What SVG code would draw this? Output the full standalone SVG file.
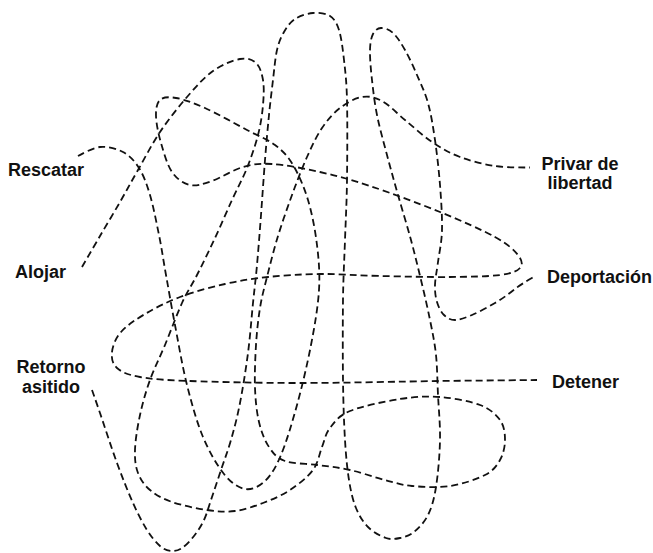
<svg xmlns="http://www.w3.org/2000/svg" width="653" height="553" viewBox="0 0 653 553">
<style>
.bg{fill:#ffffff}
.lbl{font-family:"Liberation Sans",Arial,Helvetica,sans-serif;font-weight:bold;font-size:18px;fill:#111111}
.mid{text-anchor:middle}
.line{fill:none;stroke:#111111;stroke-width:1.8;stroke-dasharray:7 4;stroke-linecap:butt}
</style>
<rect class="bg" x="0" y="0" width="653" height="553"/>
<g id="connectors">
<path id="rescatar-detener" class="line" d="M78,156 C78,156 92.5,147.7 100,147 S116.5,148.5 123,152 S134.5,160.8 139,168 S146.7,183.8 150,195 S156.3,221.7 159,235 S163.3,260 166,275 S171.5,306.7 175,325 S182.3,366.3 187,385 S196.8,422.2 203,437 S217,465.3 224,474 S238.2,487.8 245,489 S259,486.7 265,481 S275.7,467.7 281,455 S292,423.3 297,405 S307.3,364.2 311,345 S318,306.7 319,290 S318.8,260 317,245 S312,213.3 308,200 S298.5,174.2 293,165 S282.7,150.8 275,145 S258.7,136.2 247,130 S216.8,113.3 205,108 S183.5,99.3 176,98 S163.3,97 160,100 S155.8,108.8 156,116 S158.3,133.7 161,143 S167.2,165 172,172 S183.3,183.5 190,185 S203.2,184 212,181 S233,169.8 243,167 S259.2,163.2 272,164 S303.7,168.3 320,172 S350,179.3 370,186 S419.2,203.5 440,212 S482,229.8 495,237 S513.8,249.8 518,255 S523,264.7 520,268 S511.7,273.5 500,275 S470,276.8 450,277 S401.7,276.5 380,276 S338.7,273.8 320,274 S283.8,275.3 268,277 S239.7,280.7 225,284 S193.3,292 180,297 S154.8,308.2 145,314 S126.5,325.7 121,332 S112.7,346 112,352 S112.3,363.8 117,368 S127.8,374.8 140,377 S163.3,380 190,381 S258.3,383 300,383 S401.2,381.5 440,381 S521,380.2 537,380"/>
<path id="alojar-privar" class="line" d="M82,267 C82,267 93.7,246.8 100,236 S113.7,213 120,202 S131.3,181.7 138,170 S151.8,144.2 160,132 S178.2,107.2 187,97 S204.2,77.3 213,71 S232.8,60.3 240,59 S252.2,59.5 256,63 S261.8,73 263,80 S263.8,95.8 263,105 S260.7,124.5 258,135 S251.3,157.2 247,168 S237.3,188.3 232,200 S220.8,225.5 215,238 S202.5,264.2 197,275 S187.3,291.3 182,303 S170.3,332.2 165,345 S154.2,368.3 150,380 S142.5,403.3 140,415 S135.3,440.3 135,450 S135.5,466.3 138,473 S144.3,485.2 150,490 S162.5,498.7 172,502 S196.5,508.5 207,510 S225.7,512.2 235,511 S253.8,506.5 263,503 S281.7,495.5 290,490 S307.7,477.2 313,470 S319.2,454 322,447 S325.3,434 330,428 S338.3,415.8 350,411 S385,401.3 400,399 S426.7,396 440,397 S470,401.2 480,405 S495.8,414.2 500,420 S505,433.3 505,440 S503.3,454.2 500,460 S493.3,470.7 485,475 S462.2,484.2 450,486 S422.8,487 412,486 S395.3,482.7 385,480 S361.2,472.5 350,470 S328.8,466.5 318,465 S293.2,464 285,461 S273.3,453.5 269,447 S261.3,431.8 259,422 S255.5,400.8 255,388 S255.2,358.3 256,345 S258.2,319.3 260,308 S264,289 267,277 S273.8,249.7 278,236 S287.2,208.2 292,195 S302,168.2 307,157 S316.5,136.2 322,128 S333.3,113.2 340,108 S355,98.2 362,97 S374.8,97.2 382,101 S396.7,113.2 405,120 S422.8,135.8 432,142 S449.5,153 460,157 S483.3,164.3 495,166 S525,167.5 530,167.5"/>
<path id="retorno-deportacion" class="line" d="M92,390 C92,390 95.8,400.8 100,413 S111.5,448 117,463 S128,491.8 133,503 S142.5,522.8 147,530 S156,542.5 160,546 S167.3,550.7 171,551 S178.2,550.5 182,548 S190.3,540.7 194,536 S201.2,526 204,520 S208.2,508.3 211,500 S217.7,480 221,470 S227.8,451.2 231,440 S237.2,417.5 240,403 S245.8,369.7 248,353 S251.5,317.7 253,303 S255.7,279.7 257,265 S259.7,232.5 261,215 S263.7,176.7 265,160 S267.7,128.3 269,115 S271.7,90.8 273,80 S275.2,58 277,50 S281,37.2 284,32 S290.2,22.2 295,19 S307.2,13.5 313,13 S325.7,13.2 330,16 S336.7,22.7 339,30 S342.7,48.3 344,60 S346.5,80 347,100 S347.3,156.7 347,180 S345.7,220 345,240 S343.3,276.7 343,300 S342.7,356.7 343,380 S344,423.3 345,440 S347.2,468.7 349,480 S352.8,500.2 356,508 S363,522 368,527 S380.7,536.2 386,538 S395.3,539 400,538 S409.3,535.8 414,532 S424.3,522.5 428,515 S434,499.5 436,487 S439.7,455.3 440,440 S438.7,409.2 438,395 S437.3,367.5 436,355 S432.5,332.5 430,320 S424.2,293.3 421,280 S414.8,254.2 411,240 S402,209.2 398,195 S390.5,168.3 387,155 S379.5,127.5 377,115 S373.2,90.8 372,80 S369.8,57.7 370,50 S371.2,37.7 373,34 S377.7,28.2 381,28 S389,29.3 393,33 S401,43 405,50 S413.2,66.2 417,75 S425,92.2 428,103 S433,126.3 435,140 S438.8,170 440,185 S442.3,217.2 442,230 S439.2,252.8 438,262 S435.2,278.3 435,285 S435.5,297 437,302 S441,312 444,315 S450.3,320 455,320 S465.3,317.8 472,315 S487.8,307.2 495,303 S508.5,294.2 515,289 S532,278 535,276"/>
</g>
<g id="rescatar"><text class="lbl" x="8" y="176">Rescatar</text></g>
<g id="alojar"><text class="lbl" x="15" y="278">Alojar</text></g>
<g id="retorno-asitido"><text class="lbl mid" x="51" y="373">Retorno</text><text class="lbl mid" x="51" y="393">asitido</text></g>
<g id="privar-de-libertad"><text class="lbl mid" x="580" y="170">Privar de</text><text class="lbl mid" x="580" y="189">libertad</text></g>
<g id="deportacion"><text class="lbl" x="547" y="283">Deportación</text></g>
<g id="detener"><text class="lbl" x="552" y="388">Detener</text></g>
</svg>
